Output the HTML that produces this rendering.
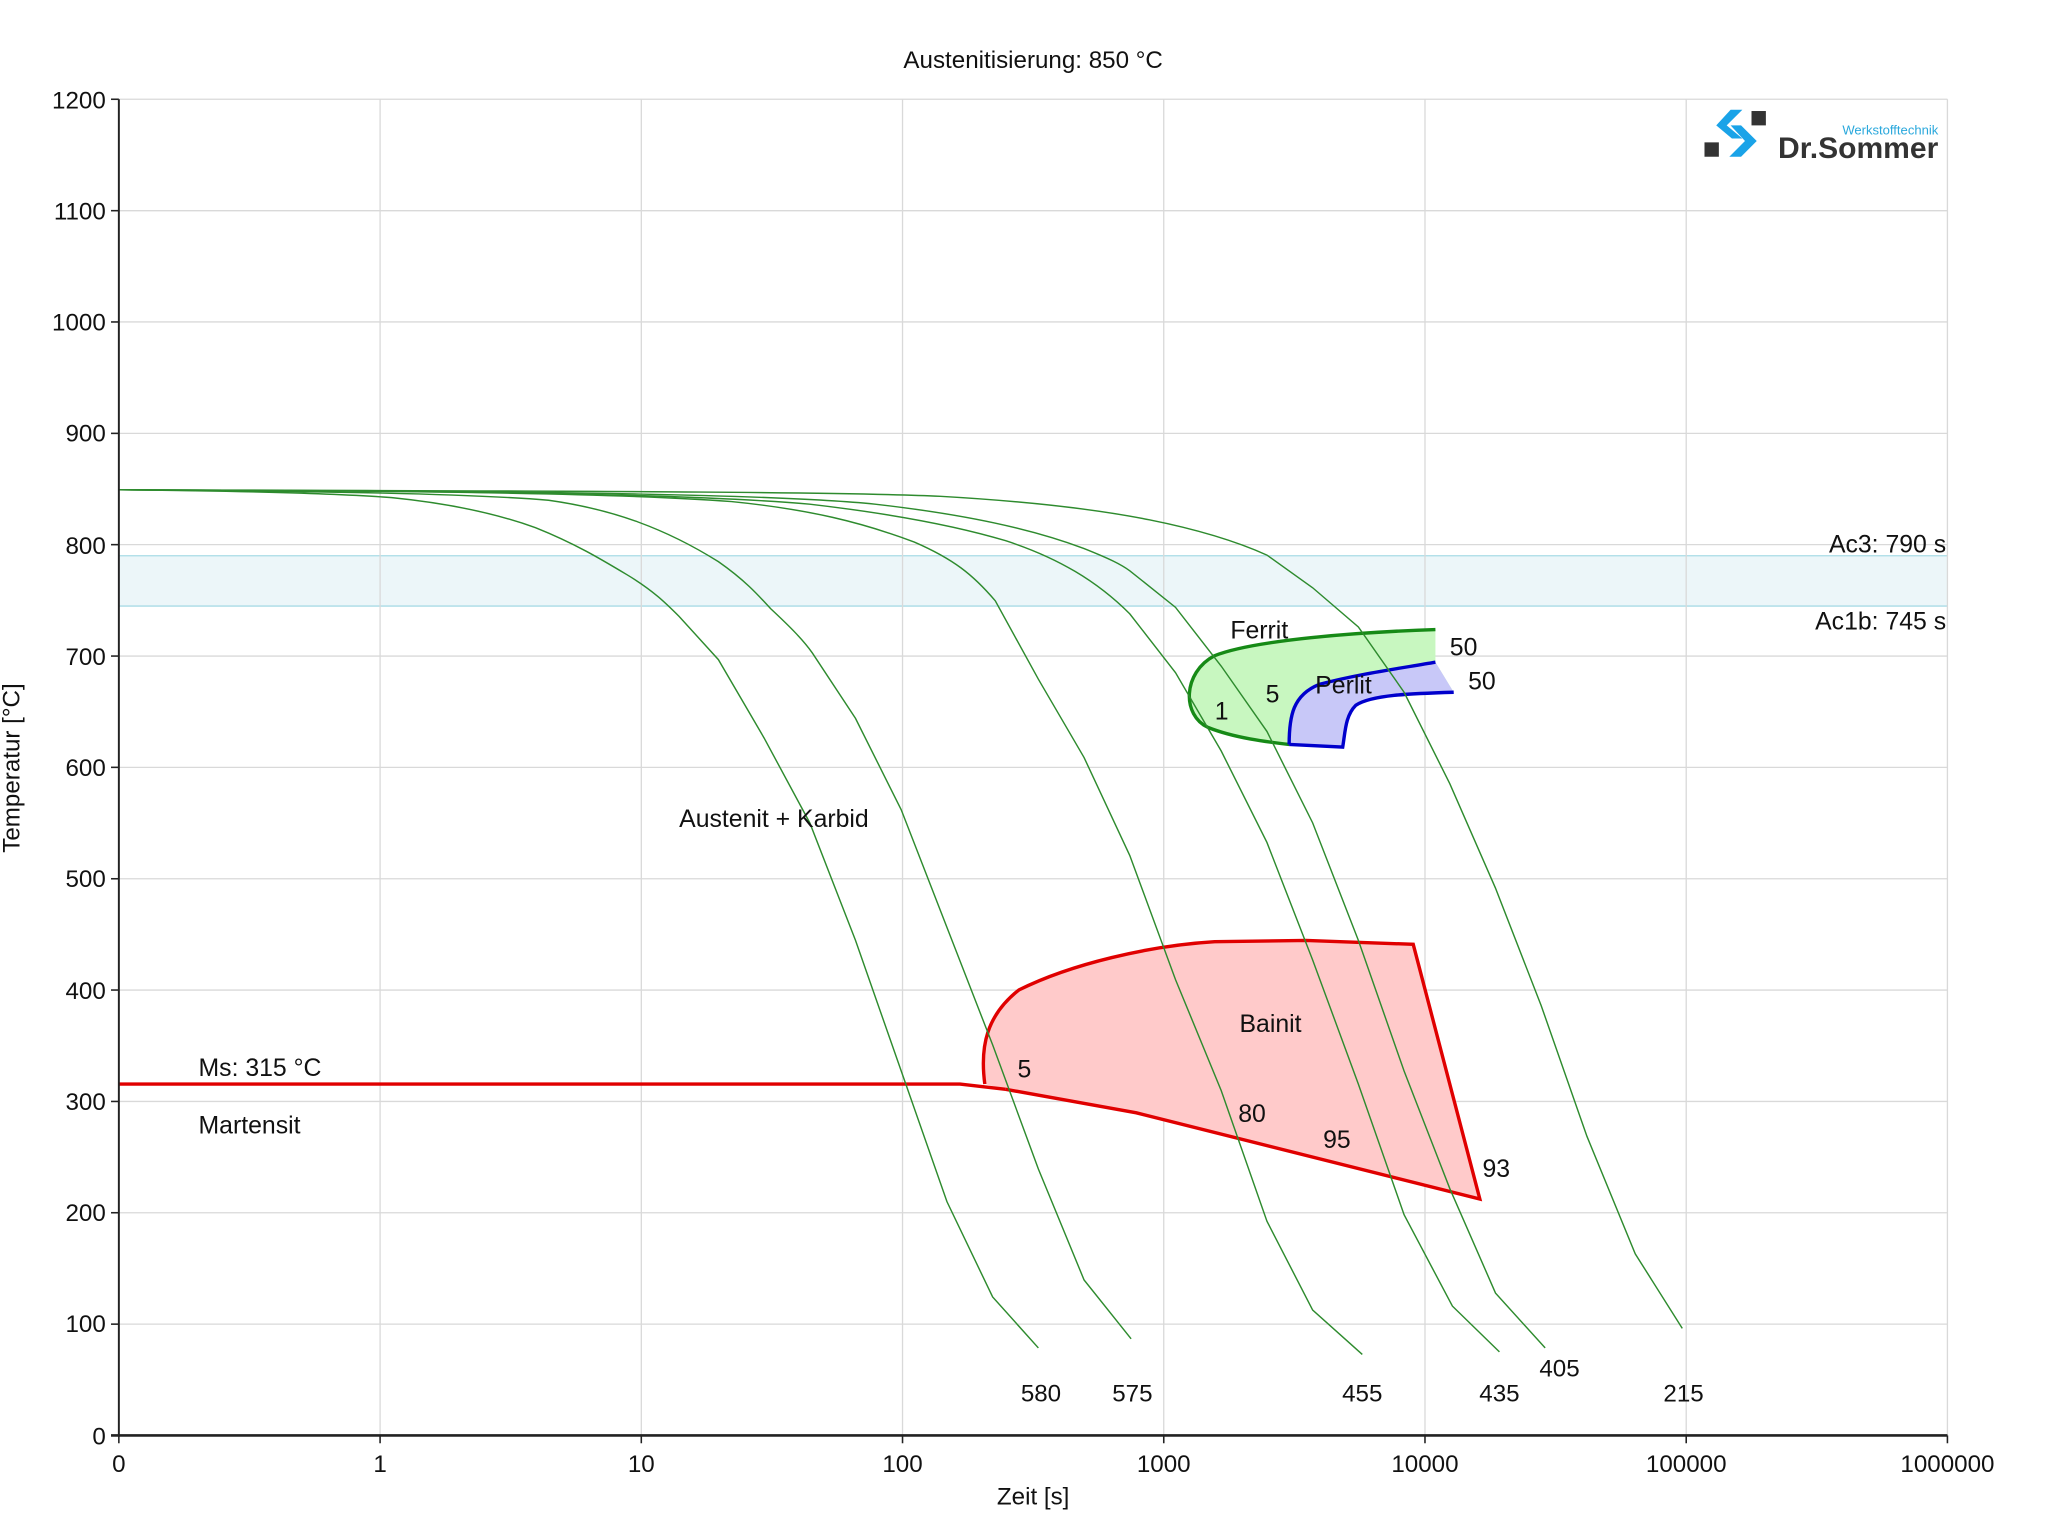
<!DOCTYPE html>
<html><head><meta charset="utf-8"><style>
html,body{margin:0;padding:0;background:#fff;}
svg{display:block;}
text{font-family:"Liberation Sans",Arial,sans-serif;fill:#111;}
</style></head><body>
<svg width="2048" height="1536" viewBox="0 0 1568 1176" xmlns="http://www.w3.org/2000/svg">
<rect width="1568" height="1176" fill="#fff"/>
<rect x="91" y="425.5" width="1400" height="38.5" fill="#ecf6f9"/>
<line x1="91" y1="425.5" x2="1491" y2="425.5" stroke="#a8dbe6" stroke-width="1"/>
<line x1="91" y1="464" x2="1491" y2="464" stroke="#a8dbe6" stroke-width="1"/>
<g stroke="#d9d9d9" stroke-width="1">
<line x1="91" y1="76" x2="1491" y2="76"/><line x1="91" y1="161.3" x2="1491" y2="161.3"/>
<line x1="91" y1="246.5" x2="1491" y2="246.5"/><line x1="91" y1="331.8" x2="1491" y2="331.8"/>
<line x1="91" y1="417" x2="1491" y2="417"/><line x1="91" y1="502.3" x2="1491" y2="502.3"/>
<line x1="91" y1="587.5" x2="1491" y2="587.5"/><line x1="91" y1="672.8" x2="1491" y2="672.8"/>
<line x1="91" y1="758" x2="1491" y2="758"/><line x1="91" y1="843.3" x2="1491" y2="843.3"/>
<line x1="91" y1="928.5" x2="1491" y2="928.5"/><line x1="91" y1="1013.8" x2="1491" y2="1013.8"/>
<line x1="291" y1="76" x2="291" y2="1099"/><line x1="491" y1="76" x2="491" y2="1099"/>
<line x1="691" y1="76" x2="691" y2="1099"/><line x1="891" y1="76" x2="891" y2="1099"/>
<line x1="1091" y1="76" x2="1091" y2="1099"/><line x1="1291" y1="76" x2="1291" y2="1099"/>
<line x1="1491" y1="76" x2="1491" y2="1099"/>
</g>
<path d="M1099,482 C1040,484 960,490 930,502 C905,515 905,548 925,557 C945,565 970,568 987,570 L1028,572 C1030,560 1028,548 1035,542 C1050,532 1080,531 1113,530 L1099,507 Z" fill="#c8f7c0"/>
<path d="M987,570 C987,548 990,532 1010,524 C1040,516 1070,512 1099,507 L1113,530 C1080,531 1050,532 1038,540 C1030,548 1030,560 1028,572 Z" fill="#c8c8f8"/>
<path d="M1099,482 C1040,484 960,490 930,502 C905,515 905,548 925,557 C945,565 970,568 987,570" fill="none" stroke="#168a16" stroke-width="2.6"/>
<path d="M987,570 C987,548 990,532 1010,524 C1040,516 1070,512 1099,507" fill="none" stroke="#0000cc" stroke-width="2.6"/>
<path d="M1113,530 C1080,531 1050,532 1038,540 C1030,548 1030,560 1028,572 L987,570" fill="none" stroke="#0000cc" stroke-width="2.6"/>
<path d="M754,830 C750,800 756,777 780,758 C820,738 880,724 930,721 L1000,720 L1082,723 L1133,918 L870,852 L770,834 Z" fill="#ffcaca"/>
<path d="M754,830 C750,800 756,777 780,758 C820,738 880,724 930,721 L1000,720 L1082,723 L1133,918 L870,852 L770,834" fill="none" stroke="#e00000" stroke-width="2.6"/>
<path d="M91,830 L735,830 L770,834" fill="none" stroke="#e00000" stroke-width="2.6"/>
<g fill="none" stroke="#2e8b2e" stroke-width="1.1">
<path d="M91,375 C200,376 260,378 300,381 C350,386 385,395 410,404 C440,416 460,428 480,440 C500,452 510,462 520,472 L550,505 L585,565 L620,630 L655,720 L690,820 L725,920 L760,993 L795,1032"/>
<path d="M91,375 C250,376 360,378 420,383 C470,390 510,405 550,430 C570,444 580,455 590,466 C605,480 615,490 622,500 L655,550 L690,620 L725,710 L760,800 L795,895 L830,980 L866,1025"/>
<path d="M91,375 C350,376 480,378 560,384 C620,390 660,400 700,415 C730,428 745,440 762,460 L795,520 L830,580 L865,655 L900,750 L935,835 L970,935 L1005,1003 L1043,1037"/>
<path d="M91,375 C400,376 540,379 620,386 C680,393 730,402 770,414 C810,427 840,445 865,470 L900,515 L935,575 L970,645 L1005,735 L1040,830 L1075,930 L1112,1000 L1148,1035"/>
<path d="M91,375 C450,376 600,379 670,386 C740,394 790,405 830,420 C850,428 858,432 865,437 L900,465 L935,510 L970,560 L1005,630 L1040,720 L1075,820 L1110,910 L1145,990 L1183,1032"/>
<path d="M91,375 C500,376 660,377 720,380 C790,384 840,390 880,398 C920,406 950,416 970,425 L1005,450 L1040,480 L1075,530 L1110,600 L1145,680 L1180,770 L1215,870 L1252,960 L1288,1017"/>
</g>
<line x1="91" y1="76" x2="91" y2="1100" stroke="#222" stroke-width="1.5"/>
<line x1="85" y1="1099" x2="1491" y2="1099" stroke="#222" stroke-width="2"/>
<g stroke="#222" stroke-width="1.2">
<line x1="85" y1="76" x2="91" y2="76"/><line x1="85" y1="161.3" x2="91" y2="161.3"/><line x1="85" y1="246.5" x2="91" y2="246.5"/>
<line x1="85" y1="331.8" x2="91" y2="331.8"/><line x1="85" y1="417" x2="91" y2="417"/><line x1="85" y1="502.3" x2="91" y2="502.3"/>
<line x1="85" y1="587.5" x2="91" y2="587.5"/><line x1="85" y1="672.8" x2="91" y2="672.8"/><line x1="85" y1="758" x2="91" y2="758"/>
<line x1="85" y1="843.3" x2="91" y2="843.3"/><line x1="85" y1="928.5" x2="91" y2="928.5"/><line x1="85" y1="1013.8" x2="91" y2="1013.8"/>
<line x1="91" y1="1099" x2="91" y2="1105"/><line x1="291" y1="1099" x2="291" y2="1105"/><line x1="491" y1="1099" x2="491" y2="1105"/>
<line x1="691" y1="1099" x2="691" y2="1105"/><line x1="891" y1="1099" x2="891" y2="1105"/><line x1="1091" y1="1099" x2="1091" y2="1105"/>
<line x1="1291" y1="1099" x2="1291" y2="1105"/><line x1="1491" y1="1099" x2="1491" y2="1105"/>
</g>
<g font-size="18.5" text-anchor="end">
<text x="81" y="83">1200</text><text x="81" y="168">1100</text><text x="81" y="253">1000</text><text x="81" y="338">900</text>
<text x="81" y="424">800</text><text x="81" y="509">700</text><text x="81" y="594">600</text><text x="81" y="679">500</text>
<text x="81" y="765">400</text><text x="81" y="850">300</text><text x="81" y="935">200</text><text x="81" y="1020">100</text><text x="81" y="1106">0</text>
</g>
<g font-size="18.5" text-anchor="middle">
<text x="91" y="1127">0</text><text x="291" y="1127">1</text><text x="491" y="1127">10</text><text x="691" y="1127">100</text>
<text x="891" y="1127">1000</text><text x="1091" y="1127">10000</text><text x="1291" y="1127">100000</text><text x="1491" y="1127">1000000</text>
<text x="791" y="1152">Zeit [s]</text>
<text x="791" y="52">Austenitisierung: 850 °C</text>
<text transform="translate(15,588) rotate(-90)">Temperatur [°C]</text>
<text x="797" y="1073">580</text><text x="867" y="1073">575</text><text x="1043" y="1073">455</text>
<text x="1148" y="1073">435</text><text x="1194" y="1054">405</text><text x="1289" y="1073">215</text>
</g>
<g font-size="19">
<text x="1490" y="423" text-anchor="end">Ac3: 790 s</text>
<text x="1490" y="482" text-anchor="end">Ac1b: 745 s</text>
<text x="942" y="489">Ferrit</text><text x="1007" y="531">Perlit</text>
<text x="930" y="551">1</text><text x="969" y="538">5</text>
<text x="1110" y="502">50</text><text x="1124" y="528">50</text>
<text x="520" y="633">Austenit + Karbid</text>
<text x="949" y="790">Bainit</text><text x="779" y="825">5</text>
<text x="948" y="859">80</text><text x="1013" y="879">95</text><text x="1135" y="901">93</text>
<text x="152" y="824">Ms: 315 °C</text><text x="152" y="868">Martensit</text>
</g>
<rect x="1305" y="109" width="11" height="11" fill="#333"/>
<rect x="1341" y="85" width="11" height="11" fill="#333"/>
<path d="M1325,84 L1334,84 L1322,96 L1334,106 L1326,106 L1314,96 Z" fill="#1aa3e8"/>
<path d="M1324,120 L1333,120 L1345,108 L1333,96 L1325,96 L1336,108 Z" fill="#1aa3e8"/>
<text x="1484" y="103" font-size="10" text-anchor="end" style="fill:#2aa8dc">Werkstofftechnik</text>
<text x="1484" y="121" font-size="23" font-weight="bold" text-anchor="end" style="fill:#333">Dr.Sommer</text>
</svg>
</body></html>
